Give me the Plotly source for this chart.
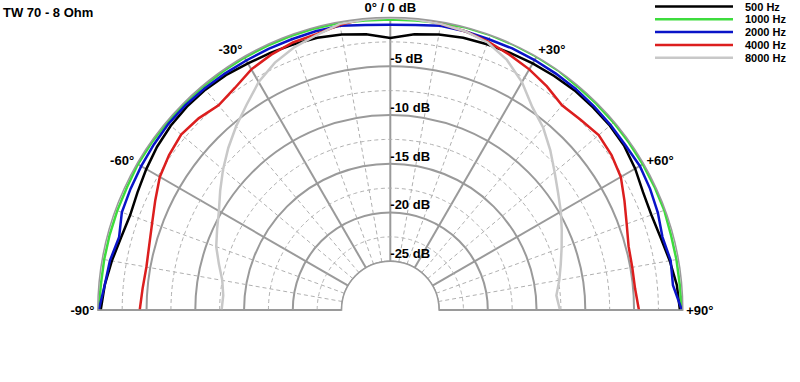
import numpy as np
import plotly.graph_objects as go

# ---------------- data ----------------
angles = [-90, -85, -80, -75, -70, -65, -60, -55, -50, -45, -40, -35, -30, -25, -20, -15, -10, -5,
          0, 5, 10, 15, 20, 25, 30, 35, 40, 45, 50, 55, 60, 65, 70, 75, 80, 85, 90]

spl_500 = [-0.3, -0.6, -1.0, -1.4, -1.6, -1.4, -1.1, -0.8, -0.6, -0.5, -0.5, -0.6, -0.8, -0.9, -1.0, -1.1, -1.3, -1.6,
           -2.1, -1.6, -1.3, -1.1, -1.0, -0.9, -0.8, -0.7, -0.6, -0.6, -0.6, -0.7, -1.0, -1.4, -1.5, -1.3, -0.9, -0.5, -0.3]
spl_1000 = [-0.1, -0.2, -0.2, -0.2, -0.2, -0.2, -0.1, -0.1, -0.1, -0.1, -0.1, -0.1, -0.1, -0.1, -0.1, -0.1, -0.1, -0.2,
            -0.2, -0.2, -0.1, 0.0, 0.0, 0.0, 0.0, 0.0, -0.1, -0.1, -0.1, -0.1, -0.1, -0.1, -0.1, -0.2, -0.2, -0.2, -0.1]
spl_2000 = [-0.1, -0.6, -0.8, -1.2, -0.7, -0.6, -0.5, -0.4, -0.3, -0.3, -0.35, -0.4, -0.45, -0.45, -0.45, -0.4, -0.4, -0.65,
            -0.75, -0.65, -0.4, -0.4, -0.45, -0.4, -0.4, -0.4, -0.4, -0.45, -0.5, -0.55, -0.45, -0.6, -0.8, -1.1, -0.8, -0.9, -0.1]
spl_4000 = [-4.3, -4.5, -4.6, -4.4, -4.0, -3.4, -2.7, -2.3, -2.0, -2.2, -2.6, -2.2, -1.5, -1.1, -0.8, -0.7, -0.3, 0.0,
            0.0, 0.0, -0.2, -0.4, -0.7, -1.1, -1.5, -2.0, -2.6, -2.4, -2.1, -2.3, -2.7, -3.5, -4.2, -4.7, -4.8, -4.8, -4.5]
spl_8000 = [-12.7, -12.8, -12.5, -11.8, -11.0, -10.4, -9.7, -8.7, -7.6, -6.5, -5.4, -4.3, -3.0, -2.0, -1.3, -0.8, -0.2, -0.1,
            0.0, -0.1, -0.2, -0.4, -0.8, -1.7, -3.0, -4.6, -5.6, -6.8, -8.0, -9.0, -9.8, -10.6, -11.3, -11.9, -12.4, -12.9, -12.6]

series_names = ["500 Hz", "1000 Hz", "2000 Hz", "4000 Hz", "8000 Hz"]
series_values = [spl_500, spl_1000, spl_2000, spl_4000, spl_8000]
series_colors = ["#000000", "#3ddc3d", "#0a14c8", "#dc1e1e", "#c8c8c8"]

angle_ticks = [-90, -60, -30, 0, 30, 60, 90]
angle_labels = ["-90°", "-60°", "-30°", "0° / 0 dB", "+30°", "+60°", "+90°"]
db_ticks = [-5, -10, -15, -20, -25]
db_labels = ["-5 dB", "-10 dB", "-15 dB", "-20 dB", "-25 dB"]
db_minor = [-2.5, -7.5, -12.5, -17.5, -22.5]
angle_minor = [-80, -70, -50, -40, -20, -10, 10, 20, 40, 50, 70, 80]

title_text = "TW 70 - 8 Ohm"

# ---------------- figure ----------------
W, H = 800, 382
FONT = "Liberation Sans, Arial, sans-serif"
cx, cy, R = 390.3, 310.0, 292.5
R_MIN, R_MAX = -25, 0
hole = 48.75 / R

fig = go.Figure()

solid_grid = "#9a9a9a"
dash_grid = "#b0b0b0"

# minor dashed circles
arc = np.linspace(-90, 90, 181)
for r in db_minor:
    fig.add_trace(go.Scatterpolar(r=[r] * len(arc), theta=arc, mode="lines",
                                  line=dict(color=dash_grid, width=1, dash="4px,3px"),
                                  hoverinfo="skip", showlegend=False))
# minor dashed spokes
for a in angle_minor:
    fig.add_trace(go.Scatterpolar(r=[R_MIN, R_MAX], theta=[a, a], mode="lines",
                                  line=dict(color=dash_grid, width=1, dash="4px,3px"),
                                  hoverinfo="skip", showlegend=False))
# inner hole edge
fig.add_trace(go.Scatterpolar(r=[R_MIN] * len(arc), theta=arc, mode="lines",
                              line=dict(color=solid_grid, width=1.5),
                              hoverinfo="skip", showlegend=False))

# data
for name, vals, col in zip(series_names, series_values, series_colors):
    fig.add_trace(go.Scatterpolar(r=vals, theta=angles, mode="lines", name=name,
                                  line=dict(color=col, width=2.5), showlegend=False))

# dB labels
fig.add_trace(go.Scatterpolar(r=db_ticks, theta=[0] * len(db_ticks), mode="text", text=db_labels,
                              textposition="top right",
                              textfont=dict(family=FONT, size=13, color="#000", weight="bold"),
                              hoverinfo="skip", showlegend=False))

fig.update_layout(
    width=W, height=H,
    margin=dict(l=0, r=0, t=0, b=0, autoexpand=False),
    paper_bgcolor="white",
    font=dict(family=FONT, size=13, color="#000"),
    title=dict(text=title_text, x=3 / W, y=1 - 12 / H, xref="container", yref="container",
               xanchor="left", yanchor="middle",
               font=dict(family=FONT, size=13, color="#000", weight="bold")),
    polar=dict(
        domain=dict(x=[(cx - R) / W, (cx + R) / W], y=[(H - cy) / H, (H - cy + R) / H]),
        sector=[0, 180],
        hole=hole,
        bgcolor="white",
        radialaxis=dict(range=[R_MIN, R_MAX], tickvals=db_ticks, showticklabels=False, ticks="",
                        showline=False, gridcolor=solid_grid, gridwidth=1.5, angle=90),
        angularaxis=dict(direction="clockwise", rotation=90, tickvals=angle_ticks, ticktext=angle_labels,
                         ticks="", showline=True, linecolor=solid_grid, linewidth=1.5,
                         gridcolor=solid_grid, gridwidth=1.5,
                         tickfont=dict(family=FONT, size=13, color="#000", weight="bold")),
    ),
)

# manual legend (compact spacing as in the reference)
leg_x0, leg_x1, leg_tx = 655, 733, 744
leg_y0, leg_dy = 6.5, 12.8
for i, (name, col) in enumerate(zip(series_names, series_colors)):
    yy = 1 - (leg_y0 + i * leg_dy) / H
    fig.add_shape(type="line", xref="paper", yref="paper", x0=leg_x0 / W, x1=leg_x1 / W, y0=yy, y1=yy,
                  line=dict(color=col, width=2.5))
    fig.add_annotation(xref="paper", yref="paper", x=leg_tx / W, y=yy, text=name, showarrow=False,
                       xanchor="left", yanchor="middle", borderpad=0,
                       font=dict(family=FONT, size=11, color="#000", weight="bold"))

fig.write_html("out.html")
